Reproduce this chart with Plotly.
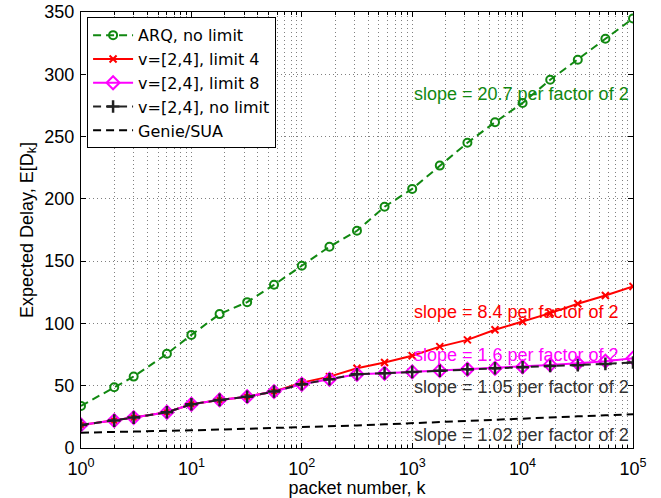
import plotly.graph_objects as go

k = [1, 2, 3, 6, 10, 18, 32, 56, 100, 178, 316, 562, 1000, 1778, 3162, 5623,
     10000, 17783, 31623, 56234, 100000]

arq = [33.8, 48.8, 57.3, 75.6, 90.8, 107.5, 117.1, 131.0, 146.3, 161.6, 174.4,
       193.7, 208.0, 226.7, 245.0, 261.5, 277.0, 295.6, 311.7, 328.5, 344.8]
lim4 = [18.5, 22.0, 24.4, 28.7, 35.1, 38.6, 41.2, 45.3, 52.5, 57.3, 64.0,
        68.6, 74.0, 81.4, 86.8, 94.9, 101.5, 108.3, 115.8, 122.4, 129.7]
lim8 = [18.5, 22.0, 24.4, 28.7, 35.1, 38.6, 41.2, 45.3, 51.2, 55.2, 59.2,
        60.0, 61.1, 62.1, 63.2, 64.0, 65.1, 66.7, 68.0, 69.7, 72.1]
nolim = [18.5, 22.0, 24.4, 28.7, 35.1, 38.6, 41.2, 45.3, 51.2, 55.2, 59.2,
         60.0, 61.1, 62.1, 63.2, 64.0, 64.9, 65.9, 66.5, 67.5, 68.6]
genie = [12.3, 12.7, 13.0, 13.6, 14.2, 14.8, 15.4, 16.1, 16.8, 17.4, 18.1,
         19.0, 20.0, 20.9, 21.8, 22.8, 23.8, 24.6, 25.4, 26.2, 27.1]

names = ["ARQ, no limit", "v=[2,4], limit 4", "v=[2,4], limit 8",
         "v=[2,4], no limit", "Genie/SUA"]

xtickvals = [1, 10, 100, 1000, 10000, 100000]
xticktext = ["10<sup>0</sup>", "10<sup>1</sup>", "10<sup>2</sup>",
             "10<sup>3</sup>", "10<sup>4</sup>", "10<sup>5</sup>"]
minor_vals = [m * 10 ** d for d in range(5) for m in range(2, 10)]

slope_texts = ["slope = 20.7 per factor of 2", "slope = 8.4 per factor of 2",
               "slope = 1.6 per factor of 2", "slope = 1.05 per factor of 2",
               "slope = 1.02 per factor of 2"]
slope_y = [283.8, 109.0, 74.8, 48.8, 10.5]
slope_colors = ["#118811", "#ff0000", "#ff00ff", "#333333", "#333333"]

GREEN = "#118811"
GRID = "#808080"
GDASH = "1px,3px"

fig = go.Figure()
fig.add_trace(go.Scatter(x=k, y=arq, name=names[0], mode="lines+markers",
                         line=dict(color=GREEN, width=2, dash="8px,5px"),
                         marker=dict(symbol="circle-open", size=8,
                                     line=dict(width=2, color=GREEN))))
fig.add_trace(go.Scatter(x=k, y=lim4, name=names[1], mode="lines+markers",
                         line=dict(color="#ff0000", width=2),
                         marker=dict(symbol="x-thin-open", size=7,
                                     line=dict(width=2, color="#ff0000"))))
fig.add_trace(go.Scatter(x=k, y=lim8, name=names[2], mode="lines+markers",
                         line=dict(color="#ff00ff", width=2),
                         marker=dict(symbol="diamond-open", size=10,
                                     line=dict(width=2, color="#ff00ff"))))
fig.add_trace(go.Scatter(x=k, y=nolim, name=names[3], mode="lines+markers",
                         line=dict(color="#222222", width=2, dash="8px,5px"),
                         marker=dict(symbol="cross-thin-open", size=9,
                                     line=dict(width=2.5, color="#222222"))))
fig.add_trace(go.Scatter(x=k, y=genie, name=names[4], mode="lines",
                         line=dict(color="#000000", width=2, dash="8px,5px")))

for txt, yv, col in zip(slope_texts, slope_y, slope_colors):
    fig.add_annotation(x=3.0, y=yv, xref="x", yref="y", text=txt,
                       showarrow=False, xanchor="left", yanchor="middle",
                       font=dict(size=18, color=col))

axis_common = dict(showline=True, linecolor="black", linewidth=1, mirror="ticks",
                   ticks="inside", ticklen=5, tickcolor="black",
                   showgrid=True, gridcolor=GRID, griddash=GDASH, gridwidth=1,
                   zeroline=False, automargin=False,
                   tickfont=dict(size=18, color="black"),
                   title_font=dict(size=18, color="black"))

fig.update_xaxes(type="log", range=[0, 5], tickvals=xtickvals, ticktext=xticktext,
                 title_text="packet number, k", title_standoff=2,
                 ticklabelstandoff=4,
                 minor=dict(tickvals=minor_vals, ticks="inside", ticklen=3,
                            tickcolor="black", showgrid=True, gridcolor=GRID,
                            griddash=GDASH, gridwidth=1),
                 **axis_common)
fig.update_yaxes(range=[0, 350], dtick=50, title_text="Expected Delay, E[D<sub>k</sub>]",
                 title_standoff=6, ticklabelstandoff=2, **axis_common)

fig.update_layout(
    width=661, height=498,
    margin=dict(l=81, r=28, t=12, b=50),
    plot_bgcolor="white", paper_bgcolor="white",
    font=dict(family="Liberation Sans, Arial, sans-serif", size=18, color="black"),
    showlegend=True,
    legend=dict(x=0.011, y=0.988, xanchor="left", yanchor="top",
                bgcolor="white", bordercolor="black", borderwidth=1,
                font=dict(size=16, family="DejaVu Sans"), tracegroupgap=0,
                itemwidth=40),
)

fig.write_html("out.html")
